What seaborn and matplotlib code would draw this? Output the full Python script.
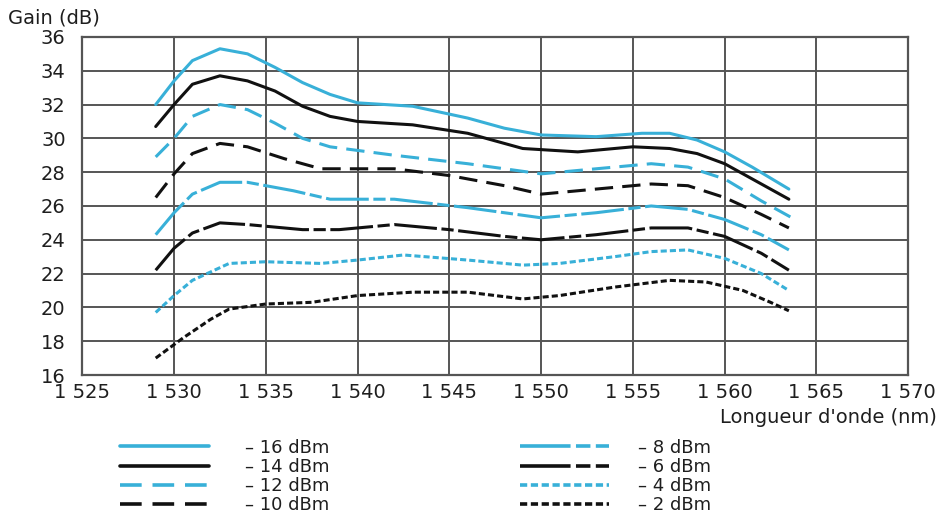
import numpy as np
import pandas as pd
import seaborn as sns
import matplotlib.pyplot as plt
from matplotlib.lines import Line2D

# wavelength (nm) and gain (dB) per input power
wl_16 = [1529, 1530, 1531, 1532.5, 1534, 1535.5, 1537, 1538.5, 1540, 1543, 1546, 1548, 1550, 1553, 1555.5, 1557, 1558.5, 1560, 1561.5, 1563.5]
g_16 = [32.0, 33.4, 34.6, 35.3, 35.0, 34.2, 33.3, 32.6, 32.1, 31.9, 31.2, 30.6, 30.2, 30.1, 30.3, 30.3, 29.9, 29.2, 28.3, 27.0]

wl_14 = [1529, 1530, 1531, 1532.5, 1534, 1535.5, 1537, 1538.5, 1540, 1543, 1546, 1549, 1552, 1555, 1557, 1558.5, 1560, 1561.5, 1563.5]
g_14 = [30.7, 32.0, 33.2, 33.7, 33.4, 32.8, 31.9, 31.3, 31.0, 30.8, 30.3, 29.4, 29.2, 29.5, 29.4, 29.1, 28.5, 27.6, 26.4]

wl_12 = [1529, 1530, 1531, 1532.5, 1534, 1535.5, 1537, 1538.5, 1542, 1546, 1550, 1553, 1556, 1558, 1560, 1562, 1564]
g_12 = [28.9, 30.0, 31.3, 32.0, 31.7, 30.9, 30.0, 29.5, 29.0, 28.5, 27.9, 28.2, 28.5, 28.3, 27.6, 26.3, 25.1]

wl_10 = [1529, 1530, 1531, 1532.5, 1534, 1536, 1538, 1542, 1545, 1548, 1550, 1553, 1556, 1558, 1560, 1562, 1563.5]
g_10 = [26.5, 27.9, 29.1, 29.7, 29.5, 28.8, 28.2, 28.2, 27.8, 27.2, 26.7, 27.0, 27.3, 27.2, 26.5, 25.5, 24.7]

wl_8 = [1529, 1530, 1531, 1532.5, 1534, 1536.5, 1538.5, 1542, 1546, 1550, 1553, 1556, 1558, 1560, 1562, 1563.5]
g_8 = [24.3, 25.6, 26.7, 27.4, 27.4, 26.9, 26.4, 26.4, 25.9, 25.3, 25.6, 26.0, 25.8, 25.2, 24.3, 23.4]

wl_6 = [1529, 1530, 1531, 1532.5, 1534, 1537, 1539, 1542, 1545, 1548, 1550, 1553, 1556, 1558, 1560, 1562, 1563.5]
g_6 = [22.2, 23.5, 24.4, 25.0, 24.9, 24.6, 24.6, 24.9, 24.6, 24.2, 24.0, 24.3, 24.7, 24.7, 24.2, 23.2, 22.2]

wl_4 = [1529, 1530, 1531, 1533, 1535, 1538, 1540, 1542.5, 1546, 1549, 1551, 1554, 1556, 1558, 1560, 1562, 1563.5]
g_4 = [19.7, 20.7, 21.6, 22.6, 22.7, 22.6, 22.8, 23.1, 22.8, 22.5, 22.6, 23.0, 23.3, 23.4, 22.9, 22.0, 21.0]

wl_2 = [1529, 1530.5, 1532, 1533, 1535, 1537.5, 1540, 1543, 1546, 1549, 1551, 1554, 1557, 1559, 1561, 1562.5, 1563.5]
g_2 = [17.0, 18.2, 19.3, 19.9, 20.2, 20.3, 20.7, 20.9, 20.9, 20.5, 20.7, 21.2, 21.6, 21.5, 21.0, 20.3, 19.8]

labels = ["\u2013 16 dBm", "\u2013 14 dBm", "\u2013 12 dBm", "\u2013 10 dBm",
          "\u2013 8 dBm", "\u2013 6 dBm", "\u2013 4 dBm", "\u2013 2 dBm"]
x_ticks = [1525, 1530, 1535, 1540, 1545, 1550, 1555, 1560, 1565, 1570]
y_ticks = [16, 18, 20, 22, 24, 26, 28, 30, 32, 34, 36]

cyan = "#38b0d8"
ink = "#1e1e1e"
series = [(wl_16, g_16), (wl_14, g_14), (wl_12, g_12), (wl_10, g_10),
          (wl_8, g_8), (wl_6, g_6), (wl_4, g_4), (wl_2, g_2)]
colors = [cyan, "#111111", cyan, "#111111", cyan, "#111111", cyan, "#111111"]
styles = ["-", "-", (0, (6, 3)), (0, (6, 3)),
          (0, (14, 1.5, 4, 1.5)), (0, (14, 1.5, 4, 1.5)), (0, (2, 1)), (0, (2, 1))]

sns.set_style("white")
plt.rcParams["font.family"] = ["DejaVu Sans"]

fig = plt.figure(figsize=(9.46, 5.13), dpi=100)
ax = fig.add_axes([0.087, 0.269, 0.873, 0.659])

for (wl, g), c, ls in zip(series, colors, styles):
    sns.lineplot(x=wl, y=g, ax=ax, color=c, linewidth=2.2, linestyle=ls)

ax.set_xlim(1525, 1570)
ax.set_ylim(16, 36)
ax.set_xticks(x_ticks)
ax.set_xticklabels([f"{t // 1000} {t % 1000:03d}" for t in x_ticks], fontsize=14, color=ink)
ax.set_yticks(y_ticks)
ax.set_yticklabels([str(t) for t in y_ticks], fontsize=14, color=ink)
ax.grid(True, color="#555555", linewidth=1.4)
for s in ax.spines.values():
    s.set_color("#555555")
    s.set_linewidth(1.6)
ax.tick_params(axis="y", length=7, width=1.4, color="#555555", pad=5)
ax.tick_params(axis="x", length=0, pad=6)
ax.set_xlabel("")
ax.set_ylabel("")

fig.text(0.008, 0.965, "Gain (dB)", fontsize=14, color=ink, va="center")
fig.text(0.99, 0.187, "Longueur d'onde (nm)", fontsize=14, color=ink, ha="right", va="center")

handles = [Line2D([0], [0], color=c, linewidth=2.6, linestyle=ls) for c, ls in zip(colors, styles)]
leg_kw = dict(loc="upper left", frameon=False, fontsize=13, handlelength=4.9,
              labelspacing=0.07, borderpad=0, borderaxespad=0, labelcolor=ink)
fig.legend(handles[:4], labels[:4], bbox_to_anchor=(0.127, 0.145), handletextpad=2.0, **leg_kw)
fig.legend(handles[4:], labels[4:], bbox_to_anchor=(0.55, 0.145), handletextpad=1.6, **leg_kw)

fig.savefig("out.png", dpi=100)
